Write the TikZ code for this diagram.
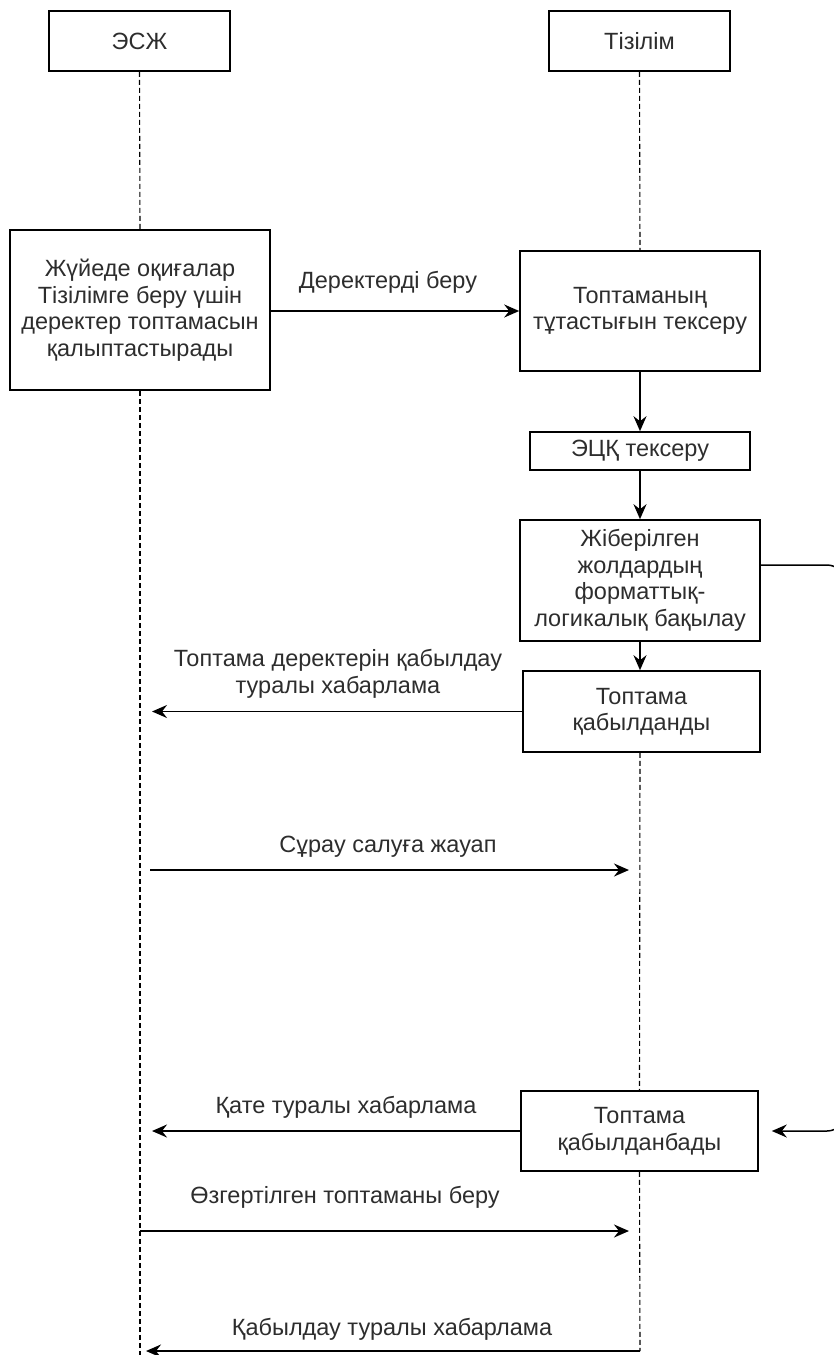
\documentclass[tikz,border=0pt]{standalone}
\usepackage{fontspec}
\setmainfont{Liberation Sans}
\usetikzlibrary{arrows.meta}
\definecolor{txt}{RGB}{45,45,45}
\tikzset{
  box/.style={draw=black, line width=1.6pt, rectangle, inner sep=0pt, align=center,
    font=\fontsize{23.5}{26.5}\selectfont, text=txt},
  lbl/.style={inner sep=0pt, align=center, font=\fontsize{23.5}{27.5}\selectfont, text=txt},
  life/.style={draw=black, line width=1.1pt, dash pattern=on 5pt off 3pt},
  msg/.style={draw=black, line width=1.8pt, -{Stealth[length=15pt,width=13pt,inset=5pt]}},
}
\begin{document}
\begin{tikzpicture}[x=1pt,y=-1pt]
\useasboundingbox (0,0) rectangle (834,1355);
\clip (0,0) rectangle (834,1355);
% participants
\node[box, minimum width=181pt, minimum height=60pt] (esj) at (139.5,41) {ЭСЖ};
\node[box, minimum width=181pt, minimum height=60pt] (tiz) at (639.5,41) {Тізілім};
% boxes
\node[box, minimum width=260pt, minimum height=160pt] (form) at (140,310)
  {Жүйеде оқиғалар\\Тізілімге беру үшін\\деректер топтамасын\\қалыптастырады};
\node[box, minimum width=240pt, minimum height=120pt] (tut) at (640,311)
  {Топтаманың\\тұтастығын тексеру};
\node[box, minimum width=220pt, minimum height=38pt] (ecq) at (640,451) {ЭЦҚ тексеру};
\node[box, minimum width=240pt, minimum height=121pt] (fmt) at (640,580.5)
  {Жіберілген\\жолдардың\\форматтық-\\логикалық бақылау};
\node[box, minimum width=237pt, minimum height=81pt] (acc) at (641.5,711.5)
  {Топтама\\қабылданды};
\node[box, minimum width=237pt, minimum height=80pt] (rej) at (639.5,1131)
  {Топтама\\қабылданбады};
% helper coordinates
\coordinate (Lx) at (140,0);
\coordinate (lbot) at (140,1355);
\coordinate (rbot) at (640,1351);
\coordinate (q1) at (140,870);
\coordinate (q2) at (640,870);
\coordinate (c1) at (140,1231);
\coordinate (c2) at (640,1231);
\coordinate (d2) at (140,1351);
\coordinate (f1) at (760,565);
\coordinate (k1) at (845,565);
\coordinate (k2) at (845,1131);
% lifelines
\draw[life] (esj.south) -- (form.north);
\draw[life] (form.south) -- (lbot);
\draw[life] (tiz.south) -- (tut.north);
\draw[life] (acc.south -| rbot) -- (rej.north);
\draw[life] (rej.south) -- (rbot);
% flow
\draw[msg] (form.east |- tut.west) -- (tut.west);
\draw[msg] (tut.south) -- (ecq.north);
\draw[msg] (ecq.south) -- (fmt.north);
\draw[msg] (fmt.south) -- (fmt.south |- acc.north);
\draw[msg, shorten >=12pt] (acc.west) -- (acc.west -| Lx);
\draw[msg, shorten <=10pt, shorten >=11pt] (q1) -- (q2);
\draw[msg, shorten >=12pt] (rej.west) -- (rej.west -| Lx);
\draw[msg, shorten >=11pt] (c1) -- (c2);
\draw[msg, shorten >=6pt] (rbot) -- (d2);
\draw[msg, line width=1.5pt, rounded corners=18pt, shorten >=13pt] (f1) -- (k1) -- (k2) -- (rej.east);
% labels
\node[lbl] (l1) at (388,282) {Деректерді беру};
\node[lbl] (l2) at (338,674) {Топтама деректерін қабылдау\\туралы хабарлама};
\node[lbl] (l3) at (388,847) {Сұрау салуға жауап};
\node[lbl] (l4) at (346,1107) {Қате туралы хабарлама};
\node[lbl] (l5) at (345,1197) {Өзгертілген топтаманы беру};
\node[lbl] (l6) at (392,1329) {Қабылдау туралы хабарлама};
\end{tikzpicture}
\end{document}
